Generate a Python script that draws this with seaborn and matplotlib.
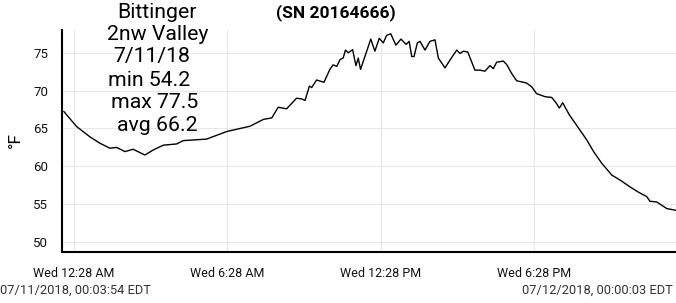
import matplotlib
matplotlib.use("Agg")
import matplotlib.pyplot as plt
import seaborn as sns
import pandas as pd
from matplotlib.ticker import MultipleLocator, FixedLocator

# hours since 07/11/2018 00:00 EDT
hours = [0.07, 0.57, 1.09, 1.48, 1.87, 2.14, 2.46, 2.78, 3.24, 3.57, 3.96, 4.48, 4.74,
         5.65, 6.44, 7.35, 7.87, 8.20, 8.45, 8.78, 9.17, 9.37, 9.50, 9.67, 9.76, 9.95,
         10.24, 10.47, 10.60, 10.74, 10.87, 10.99, 11.08, 11.19, 11.36, 11.49, 11.58,
         11.67, 12.07, 12.23, 12.40, 12.56, 12.69, 12.85, 13.05, 13.25, 13.45, 13.57,
         13.67, 13.76, 13.89, 13.99, 14.19, 14.38, 14.58, 14.71, 14.97, 15.14, 15.43,
         15.56, 15.69, 15.86, 16.14, 16.34, 16.53, 16.73, 16.86, 16.99, 17.25, 17.38,
         17.58, 17.77, 18.16, 18.36, 18.55, 18.88, 19.14, 19.31, 19.44, 19.57, 19.83,
         20.12, 20.51, 20.77, 21.10, 21.49, 21.81, 22.20, 22.53, 22.86, 22.98, 23.25,
         23.64, 24.00]
temps_f = [67.25, 65.26, 63.9, 63.06, 62.4, 62.5, 61.95, 62.26, 61.5, 62.17, 62.8, 62.96, 63.4,
           63.6, 64.6, 65.3, 66.2, 66.4, 67.8, 67.6, 69.0, 68.9, 68.7, 70.6, 70.4, 71.4,
           71.1, 72.8, 73.4, 73.2, 74.1, 74.3, 75.35, 75.0, 75.4, 73.3, 74.3,
           72.8, 76.8, 75.2, 76.9, 76.3, 77.3, 77.5, 76.0, 76.8, 76.1, 76.5,
           74.5, 74.5, 76.3, 76.5, 75.35, 76.5, 76.7, 74.3, 73.0, 73.9, 75.35,
           74.9, 75.2, 75.1, 72.7, 72.7, 72.56, 73.3, 72.9, 73.75, 73.9, 73.45,
           72.25, 71.3, 71.0, 70.5, 69.6, 69.2, 69.1, 68.4, 67.7, 68.4, 66.8,
           65.4, 63.5, 62.0, 60.4, 58.85, 58.2, 57.3, 56.6, 56.0, 55.4, 55.3,
           54.43, 54.2]

major_x_ticks = [0.4667, 6.4667, 12.4667, 18.4667]
major_x_labels = ["Wed 12:28 AM", "Wed 6:28 AM", "Wed 12:28 PM", "Wed 6:28 PM"]
minor_x_ticks = [3.4667, 9.4667, 15.4667, 21.4667]

title_lines = ["Bittinger", "2nw Valley", "7/11/18", "min 54.2", "max 77.5", "avg 66.2"]
serial_text = "(SN 20164666)"
start_text = "07/11/2018, 00:03:54 EDT"
end_text = "07/12/2018, 00:00:03 EDT"
y_label = "°F"

df = pd.DataFrame({"hour": hours, "temp": temps_f})

sns.set_style("white")
plt.rcParams["font.family"] = ["Roboto", "DejaVu Sans"]

fig = plt.figure(figsize=(6.76, 3.03), dpi=100)
ax = fig.add_axes([62 / 676, 1 - 252 / 303, 1 - 62 / 676, (252 - 30) / 303])

sns.lineplot(data=df, x="hour", y="temp", ax=ax, color="black", linewidth=1.0)

ax.set_xlim(0, 24)
ax.set_ylim(48.7, 78.0)
ax.yaxis.set_major_locator(MultipleLocator(5))
ax.yaxis.set_minor_locator(MultipleLocator(1))
ax.xaxis.set_major_locator(FixedLocator(major_x_ticks))
ax.xaxis.set_minor_locator(FixedLocator(minor_x_ticks))
ax.set_xticklabels(major_x_labels)

ax.grid(True, which="major", color="#e8e8e8", linewidth=0.8)
ax.set_axisbelow(True)
for s in ["top", "right"]:
    ax.spines[s].set_visible(False)
for s in ["left", "bottom"]:
    ax.spines[s].set_color("black")
    ax.spines[s].set_linewidth(1.5)

ax.tick_params(axis="both", which="major", direction="out", length=5, width=1.3,
               color="black", labelsize=9, labelcolor="#111111")
ax.tick_params(axis="y", which="major", labelsize=9.5)
ax.tick_params(axis="both", which="minor", direction="out", length=3, width=1.0, color="black")
ax.tick_params(axis="x", which="major", pad=6)
ax.tick_params(axis="y", which="major", pad=5)

ax.set_xlabel("")
ax.set_ylabel("")
fig.text(15 / 676, 1 - 140 / 303, y_label, fontsize=12.5, rotation=90,
         ha="center", va="center", color="black")

# stacked title text
line_x = [117, 107, 113, 108, 111, 117]
line_y = [13, 35, 57, 80, 103, 126]
for txt, lx, ly in zip(title_lines, line_x, line_y):
    fig.text(lx / 676, 1 - ly / 303, txt, fontsize=15.3, ha="left", va="center", color="black")

fig.text(276 / 676, 1 - 13 / 303, serial_text, fontsize=12.5, fontweight="bold",
         ha="left", va="center", color="black")
fig.text(0 / 676, 1 - 290 / 303, start_text, fontsize=9.3, ha="left", va="center", color="#333333")
fig.text(673 / 676, 1 - 290 / 303, end_text, fontsize=9.3, ha="right", va="center", color="#333333")

fig.savefig("out.png", dpi=100)
